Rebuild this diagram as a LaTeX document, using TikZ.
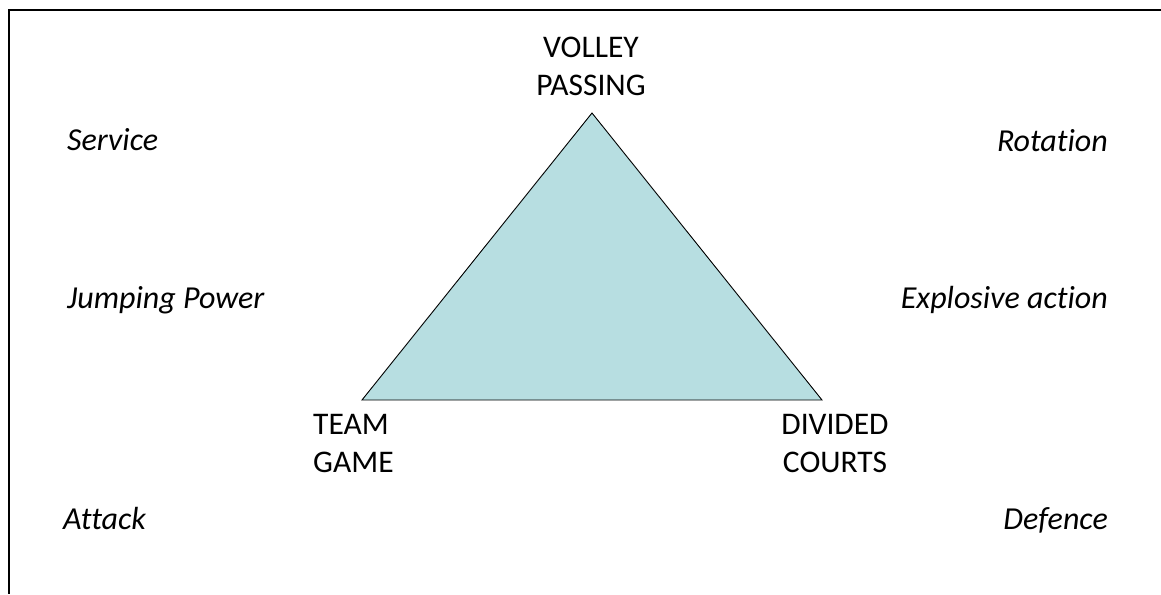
\documentclass[tikz,border=0pt]{standalone}
\usepackage{fontspec}
\setmainfont{Carlito}[Ligatures={NoCommon}]
\definecolor{trifill}{RGB}{183,222,225}
\begin{document}
\begin{tikzpicture}[x=1pt,y=-1pt,
  lbl/.style={inner sep=0pt, font=\fontsize{31.5}{37.5}\selectfont},
  ilbl/.style={inner sep=0pt, font=\fontsize{32}{38}\selectfont\itshape},
  frame/.style={line width=2.5pt},
  tri/.style={draw=black, line width=0.9pt, fill=trifill}]
\useasboundingbox (0,0) rectangle (1161,594);
\coordinate (tr) at (1161,10);
\coordinate (tl) at (9,10);
\coordinate (bl) at (9,594);
\draw[frame] (tr) -- (tl) -- (bl);
\coordinate (A) at (592,113);
\coordinate (B) at (362,400);
\coordinate (C) at (822,400);
\filldraw[tri] (A) -- (B) -- (C) -- cycle;
\node[lbl, anchor=base, align=center] (vp) at (591,95) {VOLLEY\\PASSING};
\node[lbl, anchor=base west, align=left] (tg) at (313,472) {TEAM\\GAME};
\node[lbl, anchor=base, align=center] (dc) at (835,472) {DIVIDED\\COURTS};
\node[ilbl, anchor=base west] (sv) at (67,150) {Service};
\node[ilbl, anchor=base west] (jp) at (67,308) {Jumping Power};
\node[ilbl, anchor=base west] (at) at (63,529) {Attack};
\node[ilbl, anchor=base east] (ro) at (1108,151) {Rotation};
\node[ilbl, anchor=base east] (ex) at (1108,308) {Explosive action};
\node[ilbl, anchor=base east] (de) at (1108,529) {Defence};
\end{tikzpicture}
\end{document}
